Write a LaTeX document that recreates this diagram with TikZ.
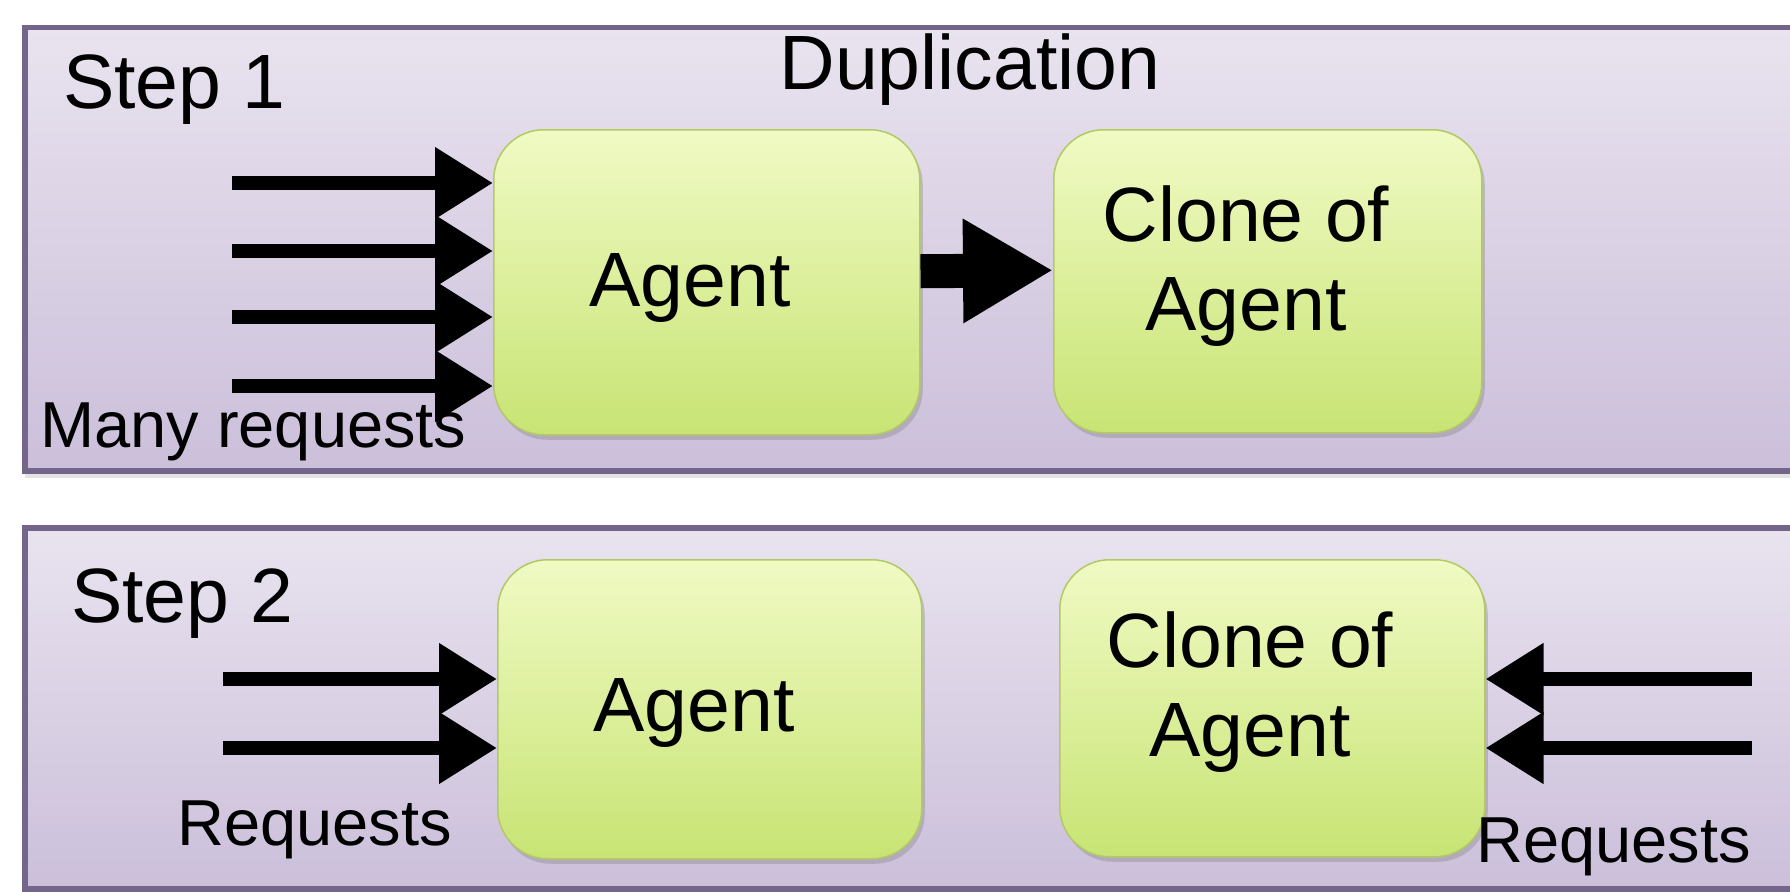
\documentclass[tikz,border=0pt]{standalone}
\usepackage{fontspec}
\setmainfont{Liberation Sans}
\usetikzlibrary{arrows.meta,shadows}
\definecolor{panelborder}{HTML}{74668A}
\definecolor{paneltop}{HTML}{E9E3EF}
\definecolor{panelbot}{HTML}{CBBFDA}
\definecolor{boxtop}{HTML}{F0FAC4}
\definecolor{boxbot}{HTML}{C8E474}
\definecolor{boxedge}{HTML}{B2C964}
\begin{document}
\begin{tikzpicture}[x=1pt,y=-1pt,
  panel/.style={draw=panelborder, line width=5.5pt, top color=paneltop, bottom color=panelbot,
    inner sep=0pt, anchor=north west,
    drop shadow={opacity=0.22, shadow xshift=0pt, shadow yshift=-7pt}},
  agentbox/.style={rounded corners=50pt, inner sep=0pt, anchor=north west,
    top color=boxtop, bottom color=boxbot, draw=boxedge, line width=1.5pt,
    drop shadow={opacity=0.35, shadow xshift=3pt, shadow yshift=-5pt}},
  bigtext/.style={font=\fontsize{77}{89}\selectfont, align=center, inner sep=0pt},
  smalltext/.style={font=\fontsize{65}{75}\selectfont, inner sep=0pt},
  req/.style={line width=14pt, -{Triangle[length=58pt,width=68pt]}},
  dup/.style={line width=34pt, -{Triangle[length=90pt,width=98pt]}},
]
\useasboundingbox (0,0) rectangle (1790,891);
\clip (0,0) rectangle (1790,891);
\fill[white] (0,0) rectangle (1790,891);

% panels
\node[panel, minimum width=1790pt, minimum height=443pt] (p1) at (22,25) {};
\node[panel, minimum width=1790pt, minimum height=361pt] (p2) at (22,525) {};

% boxes
\node[agentbox, minimum width=426pt, minimum height=305pt] (a1) at (493,129) {};
\node[agentbox, minimum width=428pt, minimum height=303pt] (c1) at (1053,129) {};
\node[agentbox, minimum width=424pt, minimum height=299pt] (a2) at (497,559) {};
\node[agentbox, minimum width=425pt, minimum height=297pt] (c2) at (1059,559) {};

% box texts
\node[bigtext, anchor=base] (a1t) at (690,306) {Agent};
\node[bigtext] (c1t) at (1246,266) {Clone of\\Agent};
\node[bigtext, anchor=base] (a2t) at (694,731) {Agent};
\node[bigtext] (c2t) at (1250,692) {Clone of\\Agent};

% labels
\node[bigtext, anchor=base west] (s1) at (63,108) {Step 1};
\node[bigtext, anchor=base] (dupl) at (970,89) {Duplication};
\node[smalltext, anchor=base west] (many) at (40,447) {Many requests};
\node[bigtext, anchor=base west] (s2) at (71,622) {Step 2};
\node[smalltext, anchor=base west] (rq1) at (177,845) {Requests};
\node[smalltext, anchor=base west] (rq2) at (1476,862) {Requests};

% step 1 request arrows
\coordinate (r1) at (232,183);
\coordinate (r2) at (232,251);
\coordinate (r3) at (232,317);
\coordinate (r4) at (232,386);
\foreach \r in {r1,r2,r3,r4} \draw[req] (\r) -- (\r -| a1.west);

% duplication arrow
\draw[dup] ([yshift=11pt]a1.east) -- ([yshift=11pt]c1.west);

% step 2 request arrows
\coordinate (l1) at (223,679);
\coordinate (l2) at (223,748);
\draw[req] (l1) -- (l1 -| a2.west);
\draw[req] (l2) -- (l2 -| a2.west);
\coordinate (q1) at (1752,679);
\coordinate (q2) at (1752,748);
\draw[req] (q1) -- (q1 -| c2.east);
\draw[req] (q2) -- (q2 -| c2.east);
\end{tikzpicture}
\end{document}
